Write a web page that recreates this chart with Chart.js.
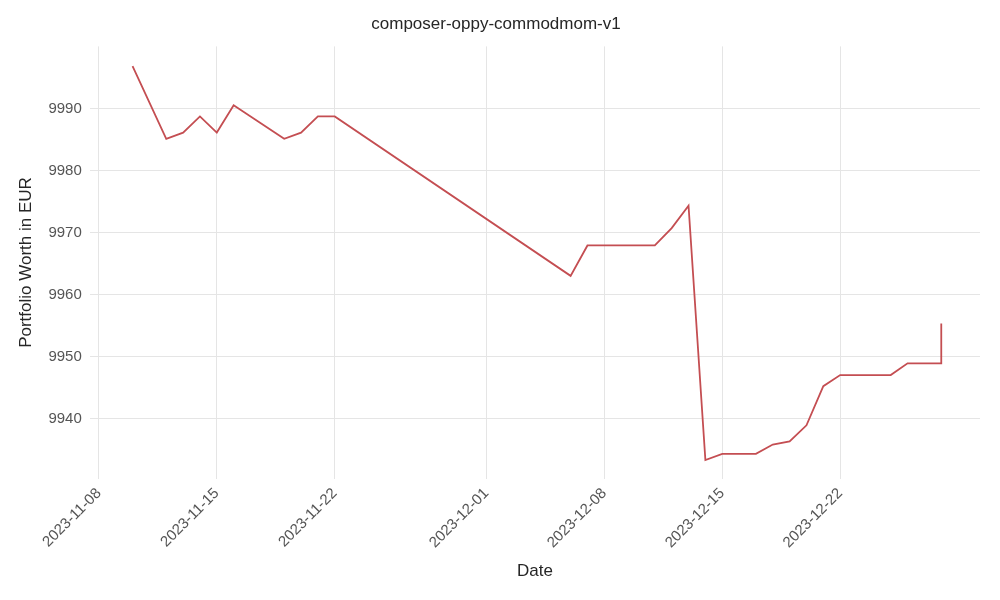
<!DOCTYPE html>
<html><head><script src="https://cdn.jsdelivr.net/npm/chart.js@4"></script>
<style>body{margin:0;background:#fff}#w{width:1000px;height:600px}</style></head>
<body><div id="w"><canvas id="c"></canvas></div>
<script>
// days since 2023-11-08
const days = [2,4,5,6,7,8,11,12,13,14,28,29,33,34,35,36,37,39,40,41,42,43,44,47,48,50,50.001];
const values = [9996.8,9985.1,9986.1,9988.7,9986.1,9990.5,9985.1,9986.1,9988.7,9988.7,9963.0,9967.9,9967.9,9970.7,9974.3,9933.3,9934.3,9934.3,9935.8,9936.3,9938.9,9945.2,9947.0,9947.0,9948.9,9948.9,9955.3];
const xTickDays = [0,7,14,23,30,37,44];
const xTickLabels = ['2023-11-08','2023-11-15','2023-11-22','2023-12-01','2023-12-08','2023-12-15','2023-12-22'];
const yTicks = [9940,9950,9960,9970,9980,9990];
const F = 'Liberation Sans';
new Chart(document.getElementById('c'), {
  type:'line',
  data:{datasets:[{data:days.map((d,i)=>({x:d,y:values[i]})),borderColor:'#c44e52',borderWidth:1.8,pointRadius:0,tension:0}]},
  options:{responsive:true,maintainAspectRatio:false,animation:false,
    layout:{padding:{left:12,right:20,top:6,bottom:14}},
    plugins:{legend:{display:false},title:{display:true,text:'composer-oppy-commodmom-v1',color:'#262626',font:{family:F,size:17,weight:'normal'},padding:{top:8,bottom:12}}},
    scales:{
      x:{type:'linear',min:-0.54,max:52.3,
        afterBuildTicks:a=>{a.ticks=xTickDays.map(v=>({value:v}));},
        ticks:{callback:(v)=>xTickLabels[xTickDays.indexOf(v)]||'',maxRotation:45,minRotation:45,color:'#555',font:{family:F,size:15},autoSkip:false,padding:6},
        grid:{color:'#e5e5e5',drawTicks:false},border:{display:false},
        title:{display:true,text:'Date',color:'#262626',font:{family:F,size:17}}},
      y:{min:9930.3,max:10000,
        afterBuildTicks:a=>{a.ticks=yTicks.map(v=>({value:v}));},
        ticks:{callback:v=>String(v),color:'#555',font:{family:F,size:15},padding:8},
        grid:{color:'#e5e5e5',drawTicks:false},border:{display:false},
        title:{display:true,text:'Portfolio Worth in EUR',color:'#262626',font:{family:F,size:17}}}
    }}
});
</script></body></html>
